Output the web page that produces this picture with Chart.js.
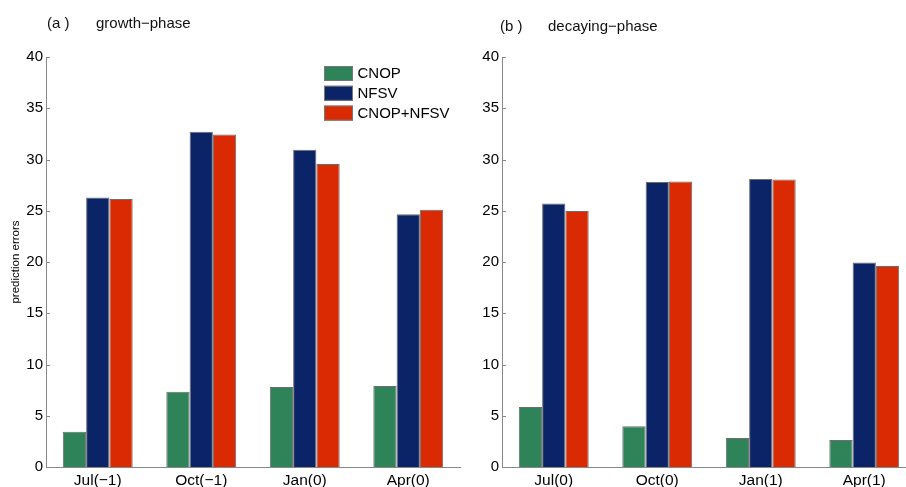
<!DOCTYPE html>
<html>
<head>
<meta charset="utf-8">
<script src="https://cdn.jsdelivr.net/npm/chart.js@4.4.1/dist/chart.umd.min.js"></script>
<style>
  html, body { margin: 0; padding: 0; background: #fff; overflow: hidden; width: 906px; height: 487px; }
  .wrap { position: absolute; top: 0; width: 470px; height: 487px; }
  .ttl { position: absolute; font-family: "Liberation Sans", Arial, sans-serif; font-size: 15px; color: #111; white-space: nowrap; }
</style>
</head>
<body>
<div class="wrap" style="left:0px"><canvas id="ca" width="470" height="487"></canvas></div>
<div class="wrap" style="left:456px"><canvas id="cb" width="470" height="487"></canvas></div>
<div class="ttl" style="left:47px; top:14px;">(a )</div>
<div class="ttl" style="left:96px; top:14px;">growth−phase</div>
<div class="ttl" style="left:500px; top:17px;">(b )</div>
<div class="ttl" style="left:548px; top:17px;">decaying−phase</div>
<script>
// ---- data ----
const seriesNames = ["CNOP", "NFSV", "CNOP+NFSV"];
const categoriesA = ["Jul(−1)", "Oct(−1)", "Jan(0)", "Apr(0)"];
const categoriesB = ["Jul(0)", "Oct(0)", "Jan(1)", "Apr(1)"];
const cnopA = [3.45, 7.35, 7.8, 7.9];
const nfsvA = [26.3, 32.7, 30.95, 24.65];
const bothA = [26.15, 32.45, 29.55, 25.1];
const cnopB = [5.85, 3.97, 2.82, 2.63];
const nfsvB = [25.7, 27.8, 28.1, 19.95];
const bothB = [24.98, 27.85, 28.05, 19.62];
const yMin = 0, yMax = 40, yStep = 5;
const yTitle = "prediction errors";

const colors = ["#2e8359", "#0b2367", "#d92a04"];
const FONT = '"Liberation Sans", Arial, sans-serif';

const innerTicks = {
  id: 'innerTicks',
  afterDatasetsDraw(chart) {
    const y = chart.scales.y, ctx = chart.ctx, a = chart.chartArea;
    ctx.save();
    ctx.strokeStyle = '#888';
    ctx.lineWidth = 1;
    y.ticks.forEach(t => {
      const py = Math.round(y.getPixelForValue(t.value)) + 0.5;
      ctx.beginPath();
      ctx.moveTo(a.left, py);
      ctx.lineTo(a.left + 4, py);
      ctx.stroke();
    });
    ctx.restore();
  }
};

const yAxisTitle = {
  id: 'yAxisTitle',
  afterDraw(chart, args, opts) {
    if (!opts.text) return;
    const ctx = chart.ctx, a = chart.chartArea;
    ctx.save();
    ctx.translate(16, (a.top + a.bottom) / 2);
    ctx.rotate(-Math.PI / 2);
    ctx.font = '11.5px ' + FONT;
    ctx.fillStyle = '#000';
    ctx.textAlign = 'center';
    ctx.textBaseline = 'middle';
    ctx.fillText(opts.text, 0, 0);
    ctx.restore();
  }
};

const boxLegend = {
  id: 'boxLegend',
  afterDraw(chart, args, opts) {
    if (!opts.show) return;
    const ctx = chart.ctx;
    ctx.save();
    ctx.font = '15px ' + FONT;
    ctx.textBaseline = 'middle';
    chart.data.datasets.forEach((ds, i) => {
      const x = 324, y = 66 + i * 19.8;
      ctx.fillStyle = ds.backgroundColor;
      ctx.fillRect(x, y, 29, 15);
      ctx.strokeStyle = '#777';
      ctx.lineWidth = 1;
      ctx.strokeRect(x + 0.5, y + 0.5, 28, 14);
      ctx.fillStyle = '#000';
      ctx.fillText(ds.label, 357.5, y + 8);
    });
    ctx.restore();
  }
};

function makeChart(id, cats, vals, showLegend, showTitle) {
  return new Chart(document.getElementById(id), {
    type: 'bar',
    data: {
      labels: cats,
      datasets: vals.map((v, i) => ({
        label: seriesNames[i],
        data: v,
        backgroundColor: colors[i],
        borderColor: 'rgba(60,60,60,0.75)',
        borderWidth: 1,
        borderSkipped: 'bottom',
        barPercentage: 1.0,
        categoryPercentage: 0.675
      }))
    },
    options: {
      responsive: false,
      animation: false,
      devicePixelRatio: 1,
      layout: { padding: { top: 57, right: 10, bottom: 0, left: 0 } },
      plugins: {
        legend: { display: false },
        tooltip: { enabled: false },
        boxLegend: { show: showLegend },
        yAxisTitle: { text: showTitle ? yTitle : '' }
      },
      scales: {
        x: {
          grid: { display: false, drawTicks: false },
          border: { display: true, color: '#888', width: 1 },
          ticks: { color: '#000', font: { family: FONT, size: 15.5 }, padding: 4, maxRotation: 0 },
          afterFit(s) { s.height = 20; }
        },
        y: {
          min: yMin, max: yMax,
          grid: { display: false, drawTicks: false },
          border: { display: true, color: '#888', width: 1 },
          ticks: { stepSize: yStep, color: '#000', font: { family: FONT, size: 15 }, padding: 3 },
          afterFit(s) { s.width = 46; }
        }
      }
    },
    plugins: [innerTicks, boxLegend, yAxisTitle]
  });
}

makeChart('ca', categoriesA, [cnopA, nfsvA, bothA], true, true);
makeChart('cb', categoriesB, [cnopB, nfsvB, bothB], false, false);
</script>
</body>
</html>
